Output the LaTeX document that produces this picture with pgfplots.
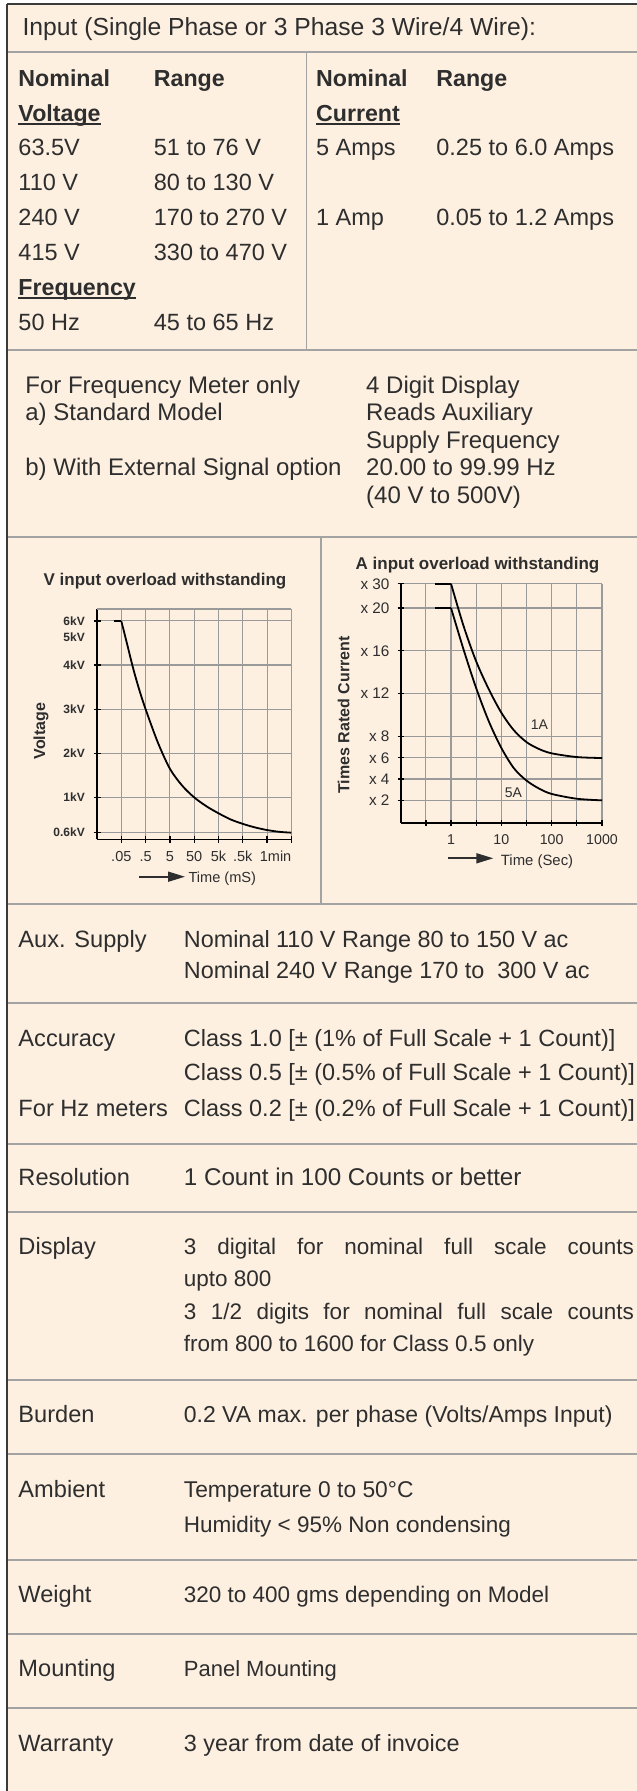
\documentclass[border=0pt]{standalone}
\usepackage{fontspec}
\setmainfont{Liberation Sans}
\usepackage{pgfplots}
\pgfplotsset{compat=1.18}
\usetikzlibrary{arrows.meta}
\definecolor{cream}{HTML}{FDF0E1}
\definecolor{txt}{HTML}{2E2E2E}
\definecolor{sep}{HTML}{A3A3A3}
\definecolor{gridc}{HTML}{9A9A9A}
\definecolor{border}{HTML}{3A3A3A}
\newcommand\fs[1]{\fontsize{#1bp}{#1bp}\selectfont}
\tikzset{t/.style={anchor=base west, inner sep=0pt, text=txt}}
\begin{document}
\begin{tikzpicture}
\useasboundingbox (0,0) rectangle (637bp,-1791bp);
\clip (0,0) rectangle (637bp,-1791bp);
\begin{scope}[x=1bp,y=-1bp]
\fill[white] (0,0) rectangle (637,1791);
\fill[cream] (7,5) rectangle (637,1791);
% separators
\begin{scope}[sep, line width=1.5bp]
\draw (7,52) -- (637,52);
\draw (306.5,52) -- (306.5,350);
\draw (7,350) -- (637,350);
\draw (7,537) -- (637,537);
\draw (321,537) -- (321,904);
\foreach \yy in {904,1003,1144,1212,1380,1454,1560,1634,1708} {\draw (7,\yy) -- (637,\yy);}
\end{scope}
\draw[border, line width=1.8bp] (7,4.2) -- (637,4.2);
\draw[border, line width=1.8bp] (7,4.2) -- (7,1791);
% header
\node[t,font=\fs{24.7}] at (22.4,35.5) {Input (Single Phase or 3 Phase 3 Wire/4 Wire):};
% input block
\node[t,font=\fs{23.2}\bfseries] at (18.3,86) {Nominal};
\node[t,font=\fs{23.2}\bfseries] at (153.7,86) {Range};
\node[t,font=\fs{23.2}\bfseries] at (315.9,86) {Nominal};
\node[t,font=\fs{23.2}\bfseries] at (436.2,86) {Range};
\node[t,font=\fs{23.2}\bfseries] (uv) at (18.3,121) {Voltage};
\node[t,font=\fs{23.2}\bfseries] (uc) at (315.9,121) {Current};
\node[t,font=\fs{23.2}\bfseries] (uf) at (18.3,295) {Frequency};
\foreach \n in {uv,uc,uf} {\draw[txt, line width=1.3bp] ([yshift=-3bp]\n.base west) -- ([yshift=-3bp]\n.base east);}
\node[t,font=\fs{23.5}] at (18.3,155.5) {63.5V};
\node[t,font=\fs{23.5}] at (153.7,155.5) {51 to 76 V};
\node[t,font=\fs{23.5}] at (18.3,190.5) {110 V};
\node[t,font=\fs{23.5}] at (153.7,190.5) {80 to 130 V};
\node[t,font=\fs{23.5}] at (18.3,225) {240 V};
\node[t,font=\fs{23.5}] at (153.7,225) {170 to 270 V};
\node[t,font=\fs{23.5}] at (18.3,260) {415 V};
\node[t,font=\fs{23.5}] at (153.7,260) {330 to 470 V};
\node[t,font=\fs{23.5}] at (18.3,330) {50 Hz};
\node[t,font=\fs{23.5}] at (153.7,330) {45 to 65 Hz};
\node[t,font=\fs{23.5}] at (315.9,155.5) {5 Amps};
\node[t,font=\fs{23.5}] at (436.2,155.5) {0.25 to 6.0 Amps};
\node[t,font=\fs{23.5}] at (315.9,225) {1 Amp};
\node[t,font=\fs{23.5}] at (436.2,225) {0.05 to 1.2 Amps};
% frequency meter block
\node[t,font=\fs{24}] at (25.2,393.3) {For Frequency Meter only};
\node[t,font=\fs{24}] at (25.2,420.7) {a) Standard Model};
\node[t,font=\fs{24}] at (25.2,475.7) {b) With External Signal option};
\node[t,font=\fs{24}] at (366,393.3) {4 Digit Display};
\node[t,font=\fs{24}] at (366,420.7) {Reads Auxiliary};
\node[t,font=\fs{24}] at (366,448.3) {Supply Frequency};
\node[t,font=\fs{24}] at (366,475.7) {20.00 to 99.99 Hz};
\node[t,font=\fs{24}] at (366,503.3) {(40 V to 500V)};
% chart texts
\node[anchor=base, inner sep=0pt, text=txt, font=\fs{17}\bfseries] at (165,585) {V input overload withstanding};
\node[anchor=base, inner sep=0pt, text=txt, font=\fs{17}\bfseries] at (477.5,569.3) {A input overload withstanding};
\node[anchor=base, inner sep=0pt, text=txt, font=\fs{16}\bfseries, rotate=90] at (45,731) {Voltage};
\node[anchor=base, inner sep=0pt, text=txt, font=\fs{16}\bfseries, rotate=90] at (349.3,715) {Times Rated Current};
\node[anchor=east, inner sep=0pt, text=txt, font=\fs{12}\bfseries] at (85,637.7) {5kV};
\node[t,font=\fs{14.6}] at (188.3,882.7) {Time (mS)};
\draw[txt, line width=1.7bp, -{Triangle[length=17bp,width=10bp]}] (139.3,876.7) -- (185,876.7);
\node[t,font=\fs{14.9}] at (500.7,865) {Time (Sec)};
\draw[txt, line width=1.7bp, -{Triangle[length=17bp,width=10bp]}] (448.3,858.3) -- (493.3,858.3);
\node[t,font=\fs{14}] at (530.7,729.7) {1A};
\node[t,font=\fs{14}] at (504.7,797.3) {5A};
% lower rows: labels
\node[t,font=\fs{23.6}] at (18.3,947.3) {Aux. Supply};
\node[t,font=\fs{23.6}] at (18.3,1046) {Accuracy};
\node[t,font=\fs{23.6}] at (18.3,1116) {For Hz meters};
\node[t,font=\fs{23.6}] at (18.3,1185.7) {Resolution};
\node[t,font=\fs{23.6}] at (18.3,1254.3) {Display};
\node[t,font=\fs{23.6}] at (18.3,1422.7) {Burden};
\node[t,font=\fs{23.6}] at (18.3,1497.7) {Ambient};
\node[t,font=\fs{23.6}] at (18.3,1602.7) {Weight};
\node[t,font=\fs{23.6}] at (18.3,1676.7) {Mounting};
\node[t,font=\fs{23.6}] at (18.3,1751) {Warranty};
% lower rows: values
\node[t,font=\fs{23.4}] at (183.7,947.3) {Nominal 110 V Range 80 to 150 V ac};
\node[t,font=\fs{23.4}] at (183.7,978.3) {Nominal 240 V Range 170 to\ \ 300 V ac};
\node[t,font=\fs{23.5}] at (183.7,1046) {Class 1.0 [± (1\% of Full Scale + 1 Count)]};
\node[t,font=\fs{23.5}] at (183.7,1080.7) {Class 0.5 [± (0.5\% of Full Scale + 1 Count)]};
\node[t,font=\fs{23.5}] at (183.7,1116) {Class 0.2 [± (0.2\% of Full Scale + 1 Count)]};
\node[t,font=\fs{24.2}] at (183.7,1185.7) {1 Count in 100 Counts or better};
\node[t,font=\fs{22.5}] at (183.7,1254.3) {\makebox[450bp][s]{3 digital for nominal full scale counts}};
\node[t,font=\fs{22.5}] at (183.7,1286) {upto 800};
\node[t,font=\fs{22.5}] at (183.7,1319.3) {\makebox[450bp][s]{3 1/2 digits for nominal full scale counts}};
\node[t,font=\fs{22.5}] at (183.7,1351) {from 800 to 1600 for Class 0.5 only};
\node[t,font=\fs{23}] at (183.7,1422.7) {0.2 VA max. per phase (Volts/Amps Input)};
\node[t,font=\fs{22.8}] at (183.7,1497.7) {Temperature 0 to 50°C};
\node[t,font=\fs{22.5}] at (183.7,1532.3) {Humidity < 95\% Non condensing};
\node[t,font=\fs{22.5}] at (183.7,1602.7) {320 to 400 gms depending on Model};
\node[t,font=\fs{22}] at (183.7,1676.7) {Panel Mounting};
\node[t,font=\fs{23.4}] at (183.7,1751) {3 year from date of invoice};
\end{scope}

% V chart
\begin{axis}[
  at={(97bp,-839.3bp)}, anchor=south west, scale only axis,
  width=194.4bp, height=230.3bp, clip=false,
  xmin=0, xmax=8, ymin=0.05, ymax=5.27,
  axis lines=left, axis line style={-, black, line width=1.6bp},
  xtick={1,2,3,4,5,6,7,8}, xticklabels={.05,.5,5,50,5k,.5k,\hspace*{17bp}1min,},
  ytick={0.2,1,2,3,4,5}, yticklabels={0.6kV,1kV,2kV,3kV,4kV,6kV},
  extra y ticks={5.27}, extra y tick labels={},
  extra y tick style={major tick length=0pt},
  grid=major, grid style={gridc, line width=1.1bp},
  tick align=center, major tick length=7bp,
  tick style={black, line width=1.3bp},
  xticklabel style={font=\fs{14.5}, text=txt, anchor=north, inner sep=0pt, text height=10.4bp, text depth=0pt, yshift=-8.5bp},
  yticklabel style={font=\fs{12}\bfseries, text=txt, anchor=east, inner sep=0pt, text height=8.6bp, text depth=0pt, xshift=-8.5bp},
]
\addplot[black, line width=1.8bp] coordinates {(0.68,5) (1,5)};
\addplot[black, line width=1.8bp, smooth, tension=0.5] coordinates {
 (1,5) (1.25,4.45) (1.5,3.9) (1.75,3.42) (2,3.0) (2.5,2.25) (3,1.65) (3.5,1.27)
 (4,1.0) (4.5,0.8) (5,0.64) (5.5,0.5) (6,0.4) (6.5,0.32) (7,0.26) (7.5,0.22) (8,0.2)};
\end{axis}

% A chart
\begin{axis}[
  at={(400.7bp,-823bp)}, anchor=south west, scale only axis,
  width=201.3bp, height=239.3bp, clip=false,
  xmode=log, xmin=0.1, xmax=1000, ymin=-0.12, ymax=22.27,
  axis lines=left, axis line style={-, black, line width=1.6bp},
  xtick={0.3162,1,3.162,10,31.62,100,316.2,1000}, xticklabels={,1,,10,,100,,1000},
  ytick={2,4,6,8,12,16,20,22.27}, yticklabels={x 2,x 4,x 6,x 8,x 12,x 16,x 20,x 30},
  grid=major, grid style={gridc, line width=1.1bp},
  tick align=center, major tick length=6bp,
  tick style={black, line width=1.3bp},
  xticklabel style={font=\fs{14.2}, text=txt, anchor=north, inner sep=0pt, text height=10.2bp, text depth=0pt, yshift=-7.8bp},
  yticklabel style={font=\fs{15.3}, text=txt, anchor=east, inner sep=0pt, text height=11bp, text depth=0pt, xshift=-8bp},
]
\addplot[black, line width=1.8bp] coordinates {(0.47,22.27) (1,22.27)};
\addplot[black, line width=1.8bp] coordinates {(0.47,20) (1,20)};
\addplot[black, line width=1.8bp, smooth, tension=0.5] coordinates {
 (1,22.27) (1.778,18.3) (3.162,15.0) (5.623,12.4) (10,10.2) (17.78,8.55)
 (31.62,7.45) (56.23,6.8) (100,6.4) (316.2,6.05) (1000,5.96)};
\addplot[black, line width=1.8bp, smooth, tension=0.5] coordinates {
 (1,20) (1.778,16.1) (3.162,12.5) (5.623,9.4) (10,6.9) (17.78,5.0)
 (31.62,3.85) (56.23,3.1) (100,2.6) (316.2,2.15) (1000,2.0)};
\end{axis}
\end{tikzpicture}
\end{document}
